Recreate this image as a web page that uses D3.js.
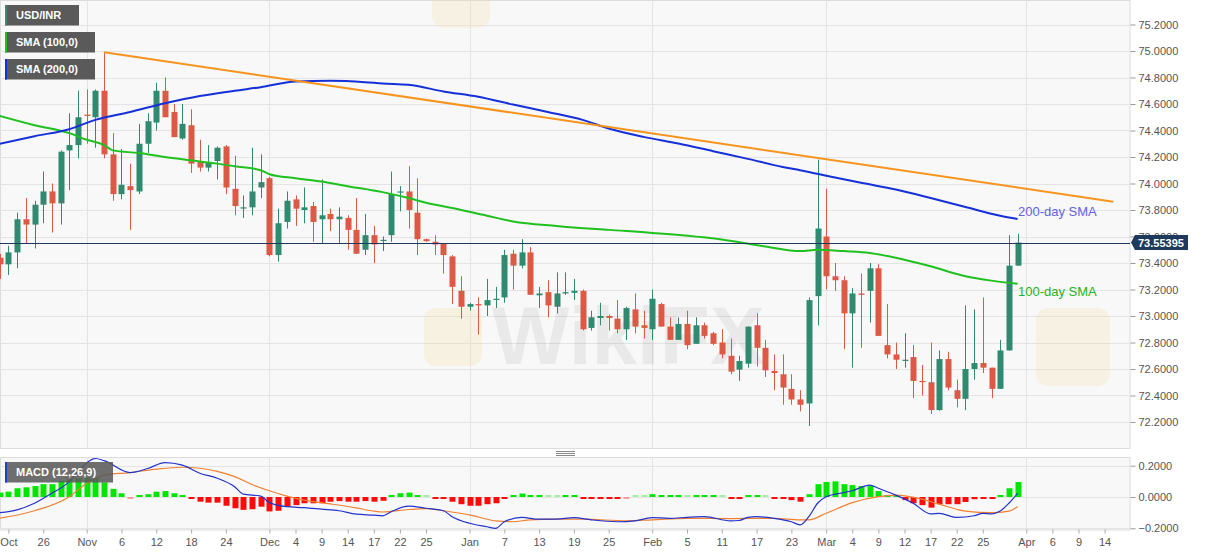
<!DOCTYPE html>
<html>
<head>
<meta charset="utf-8">
<script src="https://cdnjs.cloudflare.com/ajax/libs/d3/7.8.5/d3.min.js"></script>
<style>
body { margin: 0; background: #fff; }
svg { display: block; font-family: "Liberation Sans", Arial, sans-serif; }
</style>
</head>
<body>
<script>
var width = 1207;
var height = 555;
var plotRight = 1130;
var mainTop = 0, mainBottom = 448;
var macdTop = 457, macdBottom = 529.5;

// trading days (Mon-Fri), Oct 19 2020 -> Apr 15 2021 (axis runs past the last candle)
var fmt = d3.timeFormat("%Y-%m-%d");
var days = d3.timeDay.range(new Date(2020, 9, 19), new Date(2021, 3, 16))
    .filter(function (d) { return d.getDay() > 0 && d.getDay() < 6; })
    .map(fmt);

// daily candles Oct 19 2020 .. Mar 31 2021
var opens = [73.44,73.39,73.48,73.73,73.69, 73.84,73.94,73.85,74.25,74.29, 74.52,74.50,74.70,74.22,73.92,
    73.98,73.94,74.30,74.46,74.70, 74.54,74.34,74.44,74.17,74.12, 74.17,74.28,73.96,73.815,73.82,
    73.97,74.04,73.46,73.71,73.88, 73.80,73.83,73.73,73.77,73.73, 73.74,73.65,73.50,73.61,73.57,
    73.61,73.935,73.94,73.78,73.58, 73.56,73.55,73.45,73.19,73.07, 73.09,73.08,73.125,73.14,73.47,
    73.38,73.48,73.156,73.18,73.07, 73.17,73.175,73.19,72.91,72.985, 73.00,72.98,72.90,73.05,72.93,
    72.90,73.09,72.92,72.82,72.94, 72.79,72.93,72.87,72.80,72.70, 72.595,72.64,72.93,72.76,72.585,
    72.56,72.45,72.37,72.34,73.15, 73.60,73.30,73.27,73.02,73.17, 73.19,73.36,72.78,72.71,72.665,
    72.69,72.51,72.50,72.29,72.675, 72.44,72.375,72.60,72.645,72.61, 72.45,72.74,73.38];
var highs = [73.47,73.53,73.78,73.89,73.87, 74.09,74.00,74.25,74.53,74.70, 74.71,74.71,74.99,74.38,74.26,
    74.15,74.45,74.53,74.76,74.80, 74.60,74.60,74.56,74.33,74.29, 74.28,74.29,74.21,73.91,74.27,
    74.22,74.05,73.81,73.94,73.91, 73.97,73.86,74.03,73.81,73.82, 73.76,73.89,73.77,73.68,73.60,
    74.09,73.98,74.13,74.04,73.585, 73.61,73.55,73.46,73.30,73.10, 73.14,73.28,73.22,73.50,73.50,
    73.58,73.52,73.22,73.27,73.33, 73.33,73.28,73.20,73.04,73.10, 73.01,73.12,73.07,73.17,73.04,
    73.20,73.10,72.99,72.99,73.04, 72.99,72.95,72.88,72.90,72.83, 72.70,72.92,73.02,72.82,72.71,
    72.71,72.56,72.44,73.14,74.18, 73.96,73.40,73.30,73.21,73.32, 73.40,73.39,73.09,72.80,72.87,
    72.78,72.63,72.80,72.74,72.73, 72.52,73.08,73.05,73.14,72.61, 72.82,73.61,73.62];
var lows = [73.28,73.31,73.36,73.55,73.51, 73.70,73.63,73.69,73.95,74.19, 74.30,74.27,74.19,73.87,73.88,
    73.65,73.92,74.23,74.40,74.50, 74.35,74.33,74.08,74.09,74.09, 74.03,73.92,73.76,73.74,73.76,
    73.89,73.45,73.41,73.66,73.68, 73.70,73.56,73.55,73.64,73.55, 73.50,73.47,73.46,73.40,73.49,
    73.56,73.79,73.66,73.46,73.56, 73.46,73.32,73.09,72.98,73.04, 72.86,73.00,73.06,73.10,73.20,
    73.36,73.16,73.06,72.99,73.02, 73.16,73.12,72.89,72.89,72.93, 72.89,72.87,72.82,72.87,72.83,
    72.82,72.92,72.82,72.82,72.75, 72.79,72.83,72.78,72.68,72.56, 72.51,72.61,72.62,72.54,72.44,
    72.33,72.33,72.28,72.17,72.93, 73.20,73.19,72.75,72.61,72.76, 72.95,72.85,72.68,72.60,72.61,
    72.38,72.40,72.26,72.285,72.44, 72.31,72.29,72.52,72.57,72.38, 72.45,72.74,73.38];
var closes = [73.39,73.48,73.73,73.69,73.84, 73.94,73.85,74.24,74.29,74.50, 74.51,74.70,74.22,73.92,73.99,
    73.95,74.30,74.47,74.70,74.50, 74.35,74.45,74.15,74.12,74.16, 74.27,73.97,73.83,73.82,73.94,
    74.01,73.46,73.70,73.87,73.81, 73.82,73.71,73.76,73.73,73.75, 73.65,73.47,73.61,73.54,73.575,
    73.92,73.94,73.80,73.58,73.565, 73.54,73.46,73.22,73.07,73.09, 73.08,73.12,73.13,73.46,73.38,
    73.48,73.16,73.17,73.08,73.17, 73.18,73.19,72.90,72.99,73.00, 72.985,72.90,73.06,72.92,72.91,
    73.13,72.92,72.82,72.94,72.78, 72.93,72.85,72.79,72.71,72.58, 72.66,72.92,72.76,72.59,72.57,
    72.46,72.37,72.33,73.12,73.66, 73.30,73.27,73.02,73.17,73.16, 73.36,72.85,72.71,72.67,72.67,
    72.51,72.505,72.29,72.675,72.46, 72.375,72.60,72.645,72.61,72.45, 72.74,73.38,73.55395];
var lastPrice = 73.55395;

// moving averages: [date, value]
var sma100 = [["2020-10-19",74.51],["2020-10-23",74.44],["2020-10-29",74.38],["2020-11-02",74.33],
    ["2020-11-04",74.29],["2020-11-05",74.25],["2020-11-10",74.23],["2020-11-13",74.20],["2020-11-18",74.175],
    ["2020-11-23",74.15],["2020-11-25",74.13],["2020-11-30",74.10],["2020-12-01",74.07],["2020-12-04",74.04],
    ["2020-12-09",74.015],["2020-12-14",73.98],["2020-12-18",73.935],["2020-12-23",73.89],["2020-12-25",73.855],
    ["2020-12-30",73.815],["2021-01-05",73.757],["2021-01-08",73.714],["2021-01-15",73.68],["2021-01-25",73.65],
    ["2021-02-01",73.627],["2021-02-11",73.577],["2021-02-18",73.525],["2021-02-24",73.49],["2021-02-26",73.50],
    ["2021-03-03",73.49],["2021-03-08",73.476],["2021-03-11",73.44],["2021-03-17",73.375],["2021-03-23",73.30],
    ["2021-03-26",73.267],["2021-03-31",73.244]];
var sma200 = [["2020-10-19",74.30],["2020-10-23",74.357],["2020-10-29",74.41],["2020-11-03",74.48],
    ["2020-11-09",74.54],["2020-11-13",74.605],["2020-11-19",74.66],["2020-11-25",74.70],["2020-11-30",74.727],
    ["2020-12-04",74.77],["2020-12-10",74.775],["2020-12-16",74.765],["2020-12-18",74.755],["2020-12-23",74.745],
    ["2020-12-29",74.695],["2021-01-04",74.655],["2021-01-08",74.596],["2021-01-14",74.54],["2021-01-20",74.48],
    ["2021-01-25",74.415],["2021-01-29",74.352],["2021-02-04",74.302],["2021-02-10",74.244],["2021-02-16",74.186],
    ["2021-02-22",74.125],["2021-02-24",74.10],["2021-03-02",74.045],["2021-03-05",74.005],["2021-03-11",73.955],
    ["2021-03-17",73.891],["2021-03-23",73.823],["2021-03-29",73.757],["2021-03-31",73.732]];
var trendLine = [["2020-11-04",74.99],["2021-04-15",73.863]];

// MACD (12,26,9)
var macdLine = [["2020-10-19",-0.100],["2020-10-21",-0.082],["2020-10-23",-0.040],["2020-10-27",0.024],
    ["2020-10-29",0.098],["2020-10-30",0.162],["2020-11-03",0.246],["2020-11-04",0.232],["2020-11-09",0.156],
    ["2020-11-11",0.182],["2020-11-13",0.220],["2020-11-17",0.204],["2020-11-19",0.152],["2020-11-23",0.120],
    ["2020-11-25",0.066],["2020-11-26",0.018],["2020-11-30",0.006],["2020-12-01",-0.036],["2020-12-03",-0.062],
    ["2020-12-07",-0.068],["2020-12-09",-0.078],["2020-12-11",-0.088],["2020-12-15",-0.110],["2020-12-17",-0.116],
    ["2020-12-18",-0.120],["2020-12-21",-0.094],["2020-12-23",-0.058],["2020-12-25",-0.072],["2020-12-29",-0.088],
    ["2020-12-30",-0.126],["2021-01-01",-0.168],["2021-01-05",-0.190],["2021-01-06",-0.200],["2021-01-07",-0.158],
    ["2021-01-11",-0.130],["2021-01-13",-0.142],["2021-01-15",-0.142],["2021-01-19",-0.132],["2021-01-21",-0.146],
    ["2021-01-26",-0.158],["2021-01-28",-0.152],["2021-02-01",-0.132],["2021-02-03",-0.136],["2021-02-05",-0.130],
    ["2021-02-09",-0.126],["2021-02-12",-0.152],["2021-02-15",-0.150],["2021-02-16",-0.130],["2021-02-17",-0.126],
    ["2021-02-19",-0.136],["2021-02-23",-0.158],["2021-02-24",-0.178],["2021-02-25",-0.126],["2021-02-26",-0.040],
    ["2021-03-01",0.002],["2021-03-03",0.028],["2021-03-04",0.040],["2021-03-08",0.076],["2021-03-09",0.056],
    ["2021-03-11",0.012],["2021-03-15",-0.040],["2021-03-17",-0.108],["2021-03-18",-0.104],["2021-03-22",-0.130],
    ["2021-03-24",-0.120],["2021-03-25",-0.104],["2021-03-26",-0.108],["2021-03-29",-0.090],["2021-03-30",-0.040],
    ["2021-03-31",0.024]];
var signalLine = [["2020-10-19",-0.136],["2020-10-23",-0.088],["2020-10-29",0.002],["2020-11-02",0.088],
    ["2020-11-04",0.140],["2020-11-09",0.156],["2020-11-12",0.178],["2020-11-17",0.190],["2020-11-23",0.164],
    ["2020-11-25",0.130],["2020-11-27",0.080],["2020-12-01",0.040],["2020-12-03",0.006],["2020-12-07",-0.020],
    ["2020-12-10",-0.044],["2020-12-15",-0.070],["2020-12-17",-0.090],["2020-12-18",-0.096],["2020-12-23",-0.080],
    ["2020-12-25",-0.074],["2020-12-29",-0.088],["2021-01-01",-0.114],["2021-01-06",-0.152],["2021-01-08",-0.158],
    ["2021-01-12",-0.146],["2021-01-15",-0.142],["2021-01-20",-0.142],["2021-01-27",-0.152],["2021-02-01",-0.146],
    ["2021-02-05",-0.136],["2021-02-12",-0.138],["2021-02-19",-0.136],["2021-02-24",-0.146],["2021-02-25",-0.146],
    ["2021-03-01",-0.104],["2021-03-04",-0.036],["2021-03-09",0.002],["2021-03-11",0.012],["2021-03-16",-0.014],
    ["2021-03-18",-0.046],["2021-03-23",-0.090],["2021-03-26",-0.100],["2021-03-30",-0.090],["2021-03-31",-0.062]];
var histogram = [0.028,0.034,0.056,0.062,0.070, 0.082,0.082,0.102,0.112,0.120, 0.124,0.120,0.094,0.052,0.024,
    -0.002,0.004,0.018,0.034,0.038, 0.024,0.012,-0.010,-0.030,-0.036, -0.036,-0.056,-0.072,-0.082,-0.078,
    -0.062,-0.092,-0.088,-0.062,-0.052, -0.040,-0.040,-0.040,-0.030,-0.026, -0.030,-0.030,-0.026,-0.030,-0.024,
    0.004,0.024,0.028,0.010,0.002, -0.004,-0.008,-0.030,-0.046,-0.056, -0.056,-0.046,-0.040,-0.010,0.004,
    0.022,0.006,0.004,0.002,0.002, 0.004,0.006,-0.004,-0.006,-0.006, -0.006,-0.006,-0.002,0.000,0.002,
    0.018,0.012,0.004,0.004,0.002, 0.004,0.006,0.004,0.000,-0.010, -0.008,0.004,0.004,0.000,-0.006,
    -0.008,-0.020,-0.030,0.018,0.082, 0.096,0.100,0.082,0.076,0.070, 0.070,0.038,0.012,0.004,-0.020,
    -0.040,-0.052,-0.068,-0.046,-0.046, -0.046,-0.032,-0.014,-0.008,-0.008, 0.004,0.056,0.096];

// axis ticks
var priceTicks = [72.2,72.4,72.6,72.8,73.0,73.2,73.4,73.6,73.8,74.0,74.2,74.4,74.6,74.8,75.0,75.2];
var macdTicks = [-0.2, 0, 0.2];
var dateTicks = [["2020-10-20","Oct"],["2020-10-26","26"],["2020-11-02","Nov"],["2020-11-06","6"],
    ["2020-11-12","12"],["2020-11-18","18"],["2020-11-24","24"],["2020-12-01","Dec"],["2020-12-04","4"],
    ["2020-12-09","9"],["2020-12-14","14"],["2020-12-17","17"],["2020-12-22","22"],["2020-12-25","25"],
    ["2021-01-01","Jan"],["2021-01-07","7"],["2021-01-13","13"],["2021-01-19","19"],["2021-01-25","25"],
    ["2021-02-01","Feb"],["2021-02-05","5"],["2021-02-11","11"],["2021-02-17","17"],["2021-02-23","23"],
    ["2021-03-01","Mar"],["2021-03-04","4"],["2021-03-09","9"],["2021-03-12","12"],["2021-03-17","17"],
    ["2021-03-22","22"],["2021-03-25","25"],["2021-04-01","Apr"],["2021-04-06","6"],["2021-04-09","9"],
    ["2021-04-14","14"]];
var monthStarts = ["2020-11-02","2020-12-01","2021-01-01","2021-02-01","2021-03-01","2021-04-01"];

var green = "#2f8a70", red = "#dc5a45";

function idx(s) { return days.indexOf(s); }

var x = d3.scaleLinear().domain([0, days.length - 1]).range([-0.3, 1113.3]);
var y = d3.scaleLinear().domain([72.2, 75.2]).range([422, 24.5]);
var ym = d3.scaleLinear().domain([-0.2, 0.2]).range([528.3, 465.7]);

var svg = d3.select("body").append("svg")
    .attr("width", width)
    .attr("height", height);

var defs = svg.append("defs");
defs.append("clipPath").attr("id", "clipMain").append("rect")
    .attr("x", 0).attr("y", mainTop).attr("width", plotRight).attr("height", mainBottom - mainTop);
defs.append("clipPath").attr("id", "clipMacd").append("rect")
    .attr("x", 0).attr("y", macdTop).attr("width", plotRight).attr("height", macdBottom - macdTop);

// panel backgrounds
svg.append("rect").attr("x", 0.5).attr("y", mainTop + 0.5).attr("width", plotRight - 0.5)
    .attr("height", mainBottom - mainTop).attr("fill", "#f8f8f8").attr("stroke", "#dcdcdc");
svg.append("rect").attr("x", 0.5).attr("y", macdTop + 0.5).attr("width", plotRight - 0.5)
    .attr("height", macdBottom - macdTop).attr("fill", "#f8f8f8").attr("stroke", "#dcdcdc");

// gridlines
svg.append("g").selectAll("line").data(priceTicks).enter().append("line")
    .attr("x1", 0).attr("x2", plotRight)
    .attr("y1", function (d) { return Math.round(y(d)) + 0.5; })
    .attr("y2", function (d) { return Math.round(y(d)) + 0.5; })
    .attr("stroke", "#e4e4e4");
svg.append("g").selectAll("line").data(macdTicks).enter().append("line")
    .attr("x1", 0).attr("x2", plotRight)
    .attr("y1", function (d) { return Math.round(ym(d)) + 0.5; })
    .attr("y2", function (d) { return Math.round(ym(d)) + 0.5; })
    .attr("stroke", "#e4e4e4");
svg.append("g").selectAll("line").data(monthStarts).enter().append("line")
    .attr("x1", function (d) { return Math.round(x(idx(d))) + 0.5; })
    .attr("x2", function (d) { return Math.round(x(idx(d))) + 0.5; })
    .attr("y1", mainTop).attr("y2", mainBottom)
    .attr("stroke", "#e4e4e4");
svg.append("g").selectAll("line").data(monthStarts).enter().append("line")
    .attr("x1", function (d) { return Math.round(x(idx(d))) + 0.5; })
    .attr("x2", function (d) { return Math.round(x(idx(d))) + 0.5; })
    .attr("y1", macdTop).attr("y2", macdBottom)
    .attr("stroke", "#e4e4e4");

// watermark
var wm = svg.append("g").attr("clip-path", "url(#clipMain)");
wm.append("rect").attr("x", 424).attr("y", 308).attr("width", 58).attr("height", 58).attr("rx", 12)
    .attr("fill", "#f4dc9c").attr("opacity", 0.25);
wm.append("text").attr("x", 492).attr("y", 364).text("WikiFX")
    .style("font-size", "82px").style("font-weight", "bold").attr("fill", "#000").attr("opacity", 0.055);
wm.append("rect").attr("x", 1036).attr("y", 308).attr("width", 74).attr("height", 78).attr("rx", 12)
    .attr("fill", "#f4dc9c").attr("opacity", 0.22);
wm.append("rect").attr("x", 432).attr("y", -30).attr("width", 58).attr("height", 58).attr("rx", 12)
    .attr("fill", "#f4dc9c").attr("opacity", 0.22);

// candles
var candleData = opens.map(function (o, i) {
    return { i: i, o: o, h: highs[i], l: lows[i], c: closes[i] };
});
var main = svg.append("g").attr("clip-path", "url(#clipMain)");
var candle = main.selectAll("g.candle").data(candleData).enter().append("g").attr("class", "candle");
candle.append("line")
    .attr("x1", function (d) { return Math.round(x(d.i)) + 0.5; })
    .attr("x2", function (d) { return Math.round(x(d.i)) + 0.5; })
    .attr("y1", function (d) { return y(d.h); })
    .attr("y2", function (d) { return y(d.l); })
    .attr("stroke", function (d) { return d.c >= d.o ? green : red; });
candle.append("rect")
    .attr("x", function (d) { return Math.round(x(d.i)) - 2.5; })
    .attr("width", 6)
    .attr("y", function (d) { return y(Math.max(d.o, d.c)); })
    .attr("height", function (d) { return Math.max(1.2, Math.abs(y(d.o) - y(d.c))); })
    .attr("fill", function (d) { return d.c >= d.o ? green : red; });

// moving averages and trend line
var line = d3.line()
    .x(function (d) { return x(idx(d[0])); })
    .y(function (d) { return y(d[1]); })
    .curve(d3.curveMonotoneX);
main.append("path").datum(sma100).attr("d", line)
    .attr("fill", "none").attr("stroke", "#1fc11f").attr("stroke-width", 2);
main.append("path").datum(sma200).attr("d", line)
    .attr("fill", "none").attr("stroke", "#1530d8").attr("stroke-width", 2);
main.append("path").datum(trendLine).attr("d", line.curve(d3.curveLinear))
    .attr("fill", "none").attr("stroke", "#f7941d").attr("stroke-width", 2);

// current price line
main.append("line").attr("x1", 0).attr("x2", plotRight)
    .attr("y1", Math.round(y(lastPrice)) + 0.5).attr("y2", Math.round(y(lastPrice)) + 0.5)
    .attr("stroke", "#1d3a5c").attr("stroke-width", 1);

svg.append("text").attr("x", 1018).attr("y", 215.5).text("200-day SMA")
    .attr("fill", "#6262e4").style("font-size", "13px");
svg.append("text").attr("x", 1018).attr("y", 295.5).text("100-day SMA")
    .attr("fill", "#22b422").style("font-size", "13px");

// price axis
var yAxis = d3.axisRight(y).tickValues(priceTicks).tickFormat(d3.format(".4f")).tickSize(5).tickPadding(3);
var gy = svg.append("g").attr("transform", "translate(" + (plotRight + 0.5) + ",0)").call(yAxis);
gy.select(".domain").remove();
gy.selectAll("line").attr("stroke", "#999");
gy.selectAll("text").attr("fill", "#555").style("font-size", "11px").style("font-family", "'Liberation Sans', Arial, sans-serif");

// last price tag
var py = y(lastPrice);
svg.append("path")
    .attr("d", "M" + (plotRight + 1) + "," + py + "L1135," + (py - 7.5) + "L1188," + (py - 7.5) +
        "L1188," + (py + 7.5) + "L1135," + (py + 7.5) + "Z")
    .attr("fill", "#1d3a5c");
svg.append("text").attr("x", 1138).attr("y", py + 4).text(d3.format(".5f")(lastPrice))
    .attr("fill", "#fff").style("font-size", "11px").style("font-weight", "bold");

// MACD panel
var macd = svg.append("g").attr("clip-path", "url(#clipMacd)");
macd.selectAll("rect.hist").data(histogram).enter().append("rect").attr("class", "hist")
    .attr("x", function (d, i) { return Math.round(x(i)) - 2.5; })
    .attr("width", 6)
    .attr("y", function (d) { return d >= 0 ? Math.min(ym(d), ym(0) - 2) : ym(0); })
    .attr("height", function (d) { return Math.max(2, Math.abs(ym(d) - ym(0))); })
    .attr("fill", function (d) { return d >= 0 ? "#00e600" : "#ff0a0a"; })
    .attr("opacity", function (d) { return Math.abs(d) < 0.003 ? 0.35 : 1; });

var mline = d3.line()
    .x(function (d) { return x(idx(d[0])); })
    .y(function (d) { return ym(d[1]); })
    .curve(d3.curveMonotoneX);
macd.append("path").datum(signalLine).attr("d", mline)
    .attr("fill", "none").attr("stroke", "#f08030").attr("stroke-width", 1.2);
macd.append("path").datum(macdLine).attr("d", mline)
    .attr("fill", "none").attr("stroke", "#2233cc").attr("stroke-width", 1.2);

// MACD legend sits over the series
macd.append("rect").attr("x", 5).attr("y", 462).attr("width", 108).attr("height", 20.5)
    .attr("fill", "#5a5a5a").attr("fill-opacity", 0.88);
macd.append("rect").attr("x", 5).attr("y", 462).attr("width", 2).attr("height", 20.5).attr("fill", "#2040c0");
macd.append("text").attr("x", 16).attr("y", 476).text("MACD (12,26,9)")
    .attr("fill", "#fff").style("font-size", "11px").style("font-weight", "bold");

var mAxis = d3.axisRight(ym).tickValues(macdTicks).tickFormat(d3.format(".4f")).tickSize(5).tickPadding(3);
var gm = svg.append("g").attr("transform", "translate(" + (plotRight + 0.5) + ",0)").call(mAxis);
gm.select(".domain").remove();
gm.selectAll("line").attr("stroke", "#999");
gm.selectAll("text").attr("fill", "#555").style("font-size", "11px").style("font-family", "'Liberation Sans', Arial, sans-serif");

// date axis
var xAxis = d3.axisBottom(x)
    .tickValues(dateTicks.map(function (d) { return idx(d[0]); }))
    .tickFormat(function (v) { return dateTicks.find(function (d) { return idx(d[0]) === v; })[1]; })
    .tickSize(4).tickPadding(5);
var gx = svg.append("g").attr("transform", "translate(0," + macdBottom + ")").call(xAxis);
gx.select(".domain").remove();
gx.selectAll("line").attr("stroke", "#aaa");
gx.selectAll("text").attr("fill", "#555").style("font-size", "11px").style("font-family", "'Liberation Sans', Arial, sans-serif");

// legend boxes
function legendBox(x0, y0, w, h, stripe, label) {
    svg.append("rect").attr("x", x0).attr("y", y0).attr("width", w).attr("height", h).attr("fill", "#5a5a5a");
    svg.append("rect").attr("x", x0).attr("y", y0).attr("width", 2).attr("height", h).attr("fill", stripe);
    svg.append("text").attr("x", x0 + 11).attr("y", y0 + h / 2 + 4).text(label)
        .attr("fill", "#fff").style("font-size", "11px").style("font-weight", "bold");
}
legendBox(5, 5, 74, 20.5, "#4f7f79", "USD/INR");
legendBox(5, 32, 90, 20.5, "#1fc11f", "SMA (100,0)");
legendBox(5, 59, 90, 20.5, "#1530d8", "SMA (200,0)");

// panel splitter handle
svg.append("g").selectAll("line").data([451.5, 453.5, 455.5]).enter().append("line")
    .attr("x1", 556).attr("x2", 575).attr("y1", function (d) { return d; }).attr("y2", function (d) { return d; })
    .attr("stroke", "#888");
</script>
</body>
</html>
